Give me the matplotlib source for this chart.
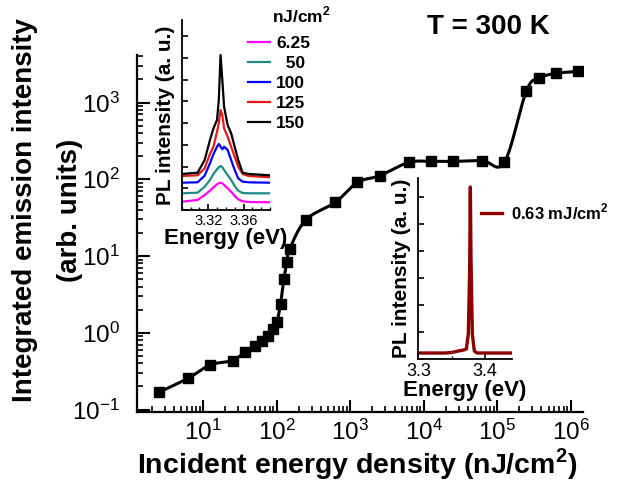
import numpy as np
import matplotlib
matplotlib.use("Agg")
import matplotlib.pyplot as plt
from matplotlib.ticker import LogLocator, MultipleLocator, NullFormatter

plt.rcParams['font.family'] = ['Liberation Sans', 'DejaVu Sans']
plt.rcParams['mathtext.fontset'] = 'custom'
plt.rcParams['mathtext.rm'] = 'Liberation Sans'
plt.rcParams['mathtext.bf'] = 'Liberation Sans:bold'

# main curve: integrated emission vs incident energy density
fluence = [2.5, 6.25, 12.5, 25, 37.5, 50, 62.5, 75, 87.5, 100, 112.5, 125, 137.5, 150,
           250, 625, 1250, 2500, 6250, 12500, 25000, 62500, 125000, 250000, 375000,
           625000, 1250000]
intensity = [0.168, 0.256, 0.382, 0.435, 0.569, 0.681, 0.79, 0.92, 1.12, 1.37, 2.38,
             5.03, 8.28, 12.4, 29.8, 50, 91, 111, 166, 171, 171, 175, 166, 1425,
             2085, 2395, 2540]

# inset 1: PL spectra below threshold (nJ/cm2)
spec_energy = [3.290, 3.308, 3.316, 3.322, 3.326, 3.330, 3.332, 3.334, 3.336, 3.338,
               3.342, 3.346, 3.350, 3.354, 3.359, 3.366, 3.390]
spec_labels = ['6.25', '  50', '100', '125', '150']
spec_colors = ['#ff00ff', '#1a8c84', '#0000ff', '#e31a1a', '#000000']
spec_6p25 = [8.3, 10, 15, 19.3, 22.7, 25.7, 26.7, 27.3, 26.7, 25, 21.7, 18.3, 14, 10.7, 8.7, 8, 7.7]
spec_50 = [16.7, 17.3, 23.3, 30, 36, 40.7, 42.7, 44, 42.7, 40, 35, 30, 24, 19.3, 17, 16.7, 16.7]
spec_100 = [27.3, 27.7, 34.3, 46.7, 56, 63.3, 66, 63.3, 60.7, 63.3, 60, 50, 40, 31.7, 28.3, 27.7, 27.3]
spec_125 = [34, 34.7, 41.7, 56, 63.3, 78.3, 86.7, 100, 95, 81.7, 73.3, 63.3, 53.3, 43.3, 36, 34, 32.7]
spec_150 = [36, 37.3, 50, 70, 81.7, 90, 110, 155, 130, 103.3, 85, 76.7, 63.3, 50, 37.3, 36, 34.7]

# inset 2: lasing spectrum at 0.63 mJ/cm2
las_energy = [3.300, 3.320, 3.340, 3.350, 3.360, 3.368, 3.372, 3.375, 3.377, 3.378,
              3.379, 3.381, 3.384, 3.388, 3.400, 3.420, 3.440]
las_int = [6, 6, 6, 6.5, 8, 9, 10, 25, 90, 172, 100, 25, 8, 6, 6, 6, 6]


def catmull_rom(x, y, n=30):
    # smooth line through the points (drawn in log-log space)
    p = np.column_stack([x, y])
    p = np.vstack([2 * p[0] - p[1], p, 2 * p[-1] - p[-2]])
    out = []
    t = np.linspace(0, 1, n)[:, None]
    for i in range(1, len(p) - 2):
        p0, p1, p2, p3 = p[i - 1], p[i], p[i + 1], p[i + 2]
        seg = 0.5 * ((2 * p1) + (-p0 + p2) * t + (2 * p0 - 5 * p1 + 4 * p2 - p3) * t ** 2
                     + (-p0 + 3 * p1 - 3 * p2 + p3) * t ** 3)
        out.append(seg)
    out = np.vstack(out)
    return out[:, 0], out[:, 1]


fig = plt.figure(figsize=(6.23, 4.83), dpi=100)
ax = fig.add_axes([0.2194, 0.1476, 0.7159, 0.7385])

lx, ly = catmull_rom(np.log10(fluence), np.log10(intensity))
ax.plot(10 ** lx, 10 ** ly, color='black', lw=2.2)
ax.plot(fluence, intensity, ls='none', marker='s', ms=6.5, color='black')

ax.set_xscale('log')
ax.set_yscale('log')
ax.set_xlim(1.24, 1.456e6)
ax.set_ylim(0.0936, 4160)
ax.spines['top'].set_visible(False)
ax.spines['right'].set_visible(False)
for s in ['left', 'bottom']:
    ax.spines[s].set_linewidth(1.6)
ax.xaxis.set_major_locator(LogLocator(base=10, numticks=20))
ax.yaxis.set_major_locator(LogLocator(base=10, numticks=20))
ax.xaxis.set_minor_locator(LogLocator(base=10, subs=np.arange(2, 10), numticks=20))
ax.yaxis.set_minor_locator(LogLocator(base=10, subs=np.arange(2, 10), numticks=20))
ax.xaxis.set_minor_formatter(NullFormatter())
ax.yaxis.set_minor_formatter(NullFormatter())
ax.tick_params(which='major', direction='in', length=9, width=1.5, labelsize=17.5)
ax.tick_params(which='minor', direction='in', length=4, width=1.2)
ax.tick_params(axis='x', which='major', pad=6)
ax.tick_params(axis='y', which='major', pad=12)

ax.set_xlabel(r'Incident energy density (nJ/cm$^{\mathbf{2}}$)', fontsize=20.5,
              fontweight='bold', va='center')
ax.xaxis.set_label_coords(0.495, -0.147)
fig.text(25 / 623, 1 - 210 / 483, 'Integrated emission intensity', rotation=90,
         fontsize=20, fontweight='bold', ha='center', va='center')
fig.text(70 / 623, 1 - 210 / 483, '(arb. units)', rotation=90,
         fontsize=20, fontweight='bold', ha='center', va='center')
fig.text(488 / 623, 1 - 27 / 483, 'T = 300 K', fontsize=20, fontweight='bold',
         ha='center', va='center')

# inset 1
ax1 = fig.add_axes([181.7 / 623, 1 - 210 / 483, 88.3 / 623, 190 / 483])
ax1.patch.set_alpha(0)
spectra = [spec_6p25, spec_50, spec_100, spec_125, spec_150]
for lab, col, ys in zip(spec_labels, spec_colors, spectra):
    ax1.plot(spec_energy, ys, color=col, lw=1.6, label=lab)
ax1.set_xlim(3.29, 3.39)
ax1.set_ylim(0, 190)
ax1.set_xticks([3.32, 3.36])
ax1.xaxis.set_minor_locator(MultipleLocator(0.01))
ax1.yaxis.set_major_locator(MultipleLocator(21.7))
ax1.set_yticklabels([])
ax1.spines['top'].set_visible(False)
ax1.spines['right'].set_visible(False)
for s in ['left', 'bottom']:
    ax1.spines[s].set_linewidth(1.3)
ax1.tick_params(which='major', direction='in', length=4, width=1.2, labelsize=10.5, pad=3)
ax1.tick_params(which='minor', direction='in', length=2, width=1)
ax1.set_xlabel('Energy (eV)', fontsize=16, fontweight='bold', labelpad=0)
ax1.set_ylabel('PL intensity (a. u.)', fontsize=15, fontweight='bold', labelpad=2)
ax1.legend(loc='upper left', bbox_to_anchor=(236 / 623, 1 - 24 / 483),
           bbox_transform=fig.transFigure, frameon=False,
           prop={'size': 12.5, 'weight': 'bold'}, handlelength=1.25,
           handletextpad=0.35, labelspacing=0.28, borderpad=0.2)
fig.text(301 / 623, 1 - 15 / 483, r'nJ/cm$^{\mathbf{2}}$', fontsize=12.5,
         fontweight='bold', ha='center', va='center')

# inset 2
ax2 = fig.add_axes([418.3 / 623, 1 - 359 / 483, 93.4 / 623, 181 / 483])
ax2.patch.set_alpha(0)
ax2.plot(las_energy, las_int, color='#8b0000', lw=2.4, label='0.63 mJ/cm$^{\\mathbf{2}}$')
ax2.set_xlim(3.3, 3.44)
ax2.set_ylim(0, 181)
ax2.set_xticks([3.3, 3.4])
ax2.xaxis.set_minor_locator(MultipleLocator(0.05))
ax2.yaxis.set_major_locator(MultipleLocator(27))
ax2.set_yticklabels([])
ax2.spines['top'].set_visible(False)
ax2.spines['right'].set_visible(False)
for s in ['left', 'bottom']:
    ax2.spines[s].set_linewidth(1.3)
ax2.tick_params(which='major', direction='in', length=4, width=1.2, labelsize=13, pad=3)
ax2.tick_params(which='minor', direction='in', length=2, width=1)
ax2.set_xlabel('Energy (eV)', fontsize=16, fontweight='bold', labelpad=0)
ax2.set_ylabel('PL intensity (a. u.)', fontsize=15, fontweight='bold', labelpad=2)
ax2.legend(loc='upper left', bbox_to_anchor=(469 / 623, 1 - 190 / 483),
           bbox_transform=fig.transFigure, frameon=False,
           prop={'size': 12, 'weight': 'bold'}, handlelength=1.3, handletextpad=0.5,
           borderpad=0.2)

fig.savefig('out.png', dpi=100)
